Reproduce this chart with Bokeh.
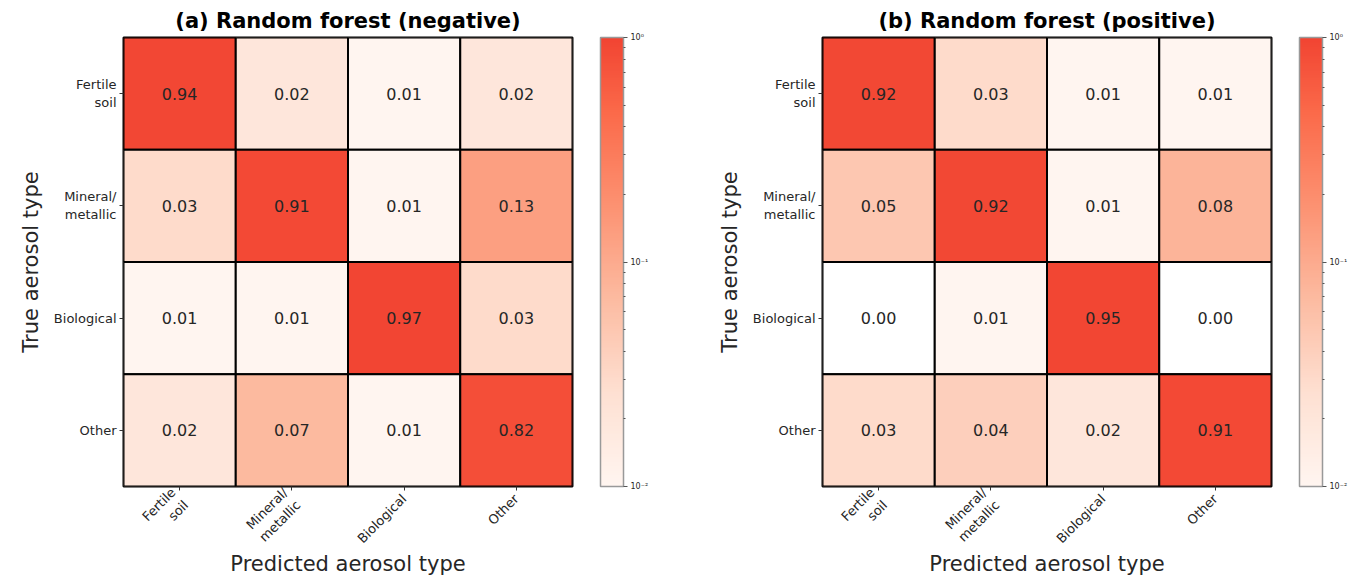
import numpy as np
from bokeh.plotting import figure
from bokeh.layouts import row
from bokeh.models import (ColumnDataSource, LogColorMapper, ColorBar, FixedTicker,
                          Range1d)
from bokeh.core.properties import value
from bokeh.embed import file_html
from bokeh.resources import INLINE

classes = ["Fertile\nsoil", "Mineral/\nmetallic", "Biological", "Other"]
title_a = "(a) Random forest (negative)"
title_b = "(b) Random forest (positive)"
xlabel = "Predicted aerosol type"
ylabel = "True aerosol type"

# rows = true class, columns = predicted class
neg_fertile = [0.94, 0.02, 0.01, 0.02]
neg_mineral = [0.03, 0.91, 0.01, 0.13]
neg_bio = [0.01, 0.01, 0.97, 0.03]
neg_other = [0.02, 0.07, 0.01, 0.82]

pos_fertile = [0.92, 0.03, 0.01, 0.01]
pos_mineral = [0.05, 0.92, 0.01, 0.08]
pos_bio = [0.00, 0.01, 0.95, 0.00]
pos_other = [0.03, 0.04, 0.02, 0.91]

cbar_ticks = [0.01, 0.1, 1.0]
cbar_labels = ["10\u207b\u00b2", "10\u207b\u00b9", "10\u2070"]

FONT = "DejaVu Sans"

# palette: truncated matplotlib-like "Reds"
anchors = ["#fff5f0", "#fee0d2", "#fcbba1", "#fc9272", "#fb6a4a",
           "#ef3b2c", "#cb181d", "#a50f15", "#67000d"]
apos = np.linspace(0, 1, len(anchors))
argb = np.array([[int(c[i:i + 2], 16) for i in (1, 3, 5)] for c in anchors], float)
samp = np.linspace(0, 0.6, 256)
palette = []
for s in samp:
    rgb = [np.interp(s, apos, argb[:, k]) for k in range(3)]
    palette.append("#%02x%02x%02x" % tuple(int(round(v)) for v in rgb))


def make_panel(rows, title, left_border, right_border):
    xs, ys, vals, cvals, txt = [], [], [], [], []
    for i, r in enumerate(rows):
        for j, v in enumerate(r):
            xs.append(j + 0.5)
            ys.append(i + 0.5)
            vals.append(v)
            cvals.append(v if v > 0 else np.nan)
            txt.append("%.2f" % v)
    src = ColumnDataSource(dict(x=xs, y=ys, v=vals, c=cvals, t=txt))
    mapper = LogColorMapper(palette=palette, low=0.01, high=1.0, nan_color="white")

    p = figure(frame_width=449, frame_height=449, output_backend="svg",
               toolbar_location=None, x_range=Range1d(0, 4), y_range=Range1d(4, 0),
               min_border_left=left_border, min_border_right=right_border,
               min_border_top=37, min_border_bottom=0)
    p.rect("x", "y", width=1, height=1, source=src,
           fill_color={"field": "c", "transform": mapper},
           line_color="black", line_width=2)
    p.text("x", "y", text="t", source=src, text_align="center",
           text_baseline="middle", text_font=value(FONT),
           text_font_size="16px", text_color="#262626")

    p.title.text = title
    p.title.align = "center"
    p.title.text_font = FONT
    p.title.text_font_size = "21px"
    p.title.text_font_style = "bold"
    p.title.text_color = "black"
    p.title.standoff = 9

    p.grid.visible = False
    p.outline_line_color = "black"
    p.outline_line_width = 2
    p.background_fill_color = "white"

    for ax in (p.xaxis[0], p.yaxis[0]):
        ax.ticker = FixedTicker(ticks=[0.5, 1.5, 2.5, 3.5])
        ax.major_label_overrides = {0.5: classes[0], 1.5: classes[1],
                                    2.5: classes[2], 3.5: classes[3]}
        ax.minor_tick_line_color = None
        ax.major_tick_in = 0
        ax.major_tick_out = 4
        ax.major_tick_line_color = "#333333"
        ax.axis_line_color = None
        ax.major_label_text_font = FONT
        ax.major_label_text_font_size = "13px"
        ax.major_label_text_color = "#262626"
        ax.axis_label_text_font = FONT
        ax.axis_label_text_font_size = "21px"
        ax.axis_label_text_font_style = "normal"
        ax.axis_label_text_color = "#262626"
    p.xaxis[0].axis_label = xlabel
    p.yaxis[0].axis_label = ylabel
    p.xaxis[0].major_label_orientation = np.pi / 4
    p.xaxis[0].major_label_standoff = 6
    p.xaxis[0].axis_label_standoff = -8
    p.yaxis[0].axis_label_standoff = 8
    p.yaxis[0].major_label_standoff = 3

    minor = [k * 0.01 for k in range(2, 10)] + [k * 0.1 for k in range(2, 10)]
    cb = ColorBar(color_mapper=mapper, width=23, height=449, location=(28, 0),
                  ticker=FixedTicker(ticks=cbar_ticks, minor_ticks=minor),
                  major_label_overrides=dict(zip(cbar_ticks, cbar_labels)),
                  major_label_text_font=FONT, major_label_text_font_size="8px",
                  major_label_text_color="#262626",
                  major_tick_in=0, major_tick_out=4, minor_tick_in=0, minor_tick_out=2,
                  major_tick_line_color="#555555", minor_tick_line_color="#555555",
                  bar_line_color="#999999", bar_line_width=1.5,
                  padding=0, margin=0, label_standoff=3,
                  background_fill_alpha=0, border_line_color=None)
    p.add_layout(cb, "right")
    return p


p1 = make_panel([neg_fertile, neg_mineral, neg_bio, neg_other], title_a, 123, 98)
p2 = make_panel([pos_fertile, pos_mineral, pos_bio, pos_other], title_b, 152, 69)
layout = row(p1, p2)

open("out.html", "w").write(file_html(layout, INLINE))
